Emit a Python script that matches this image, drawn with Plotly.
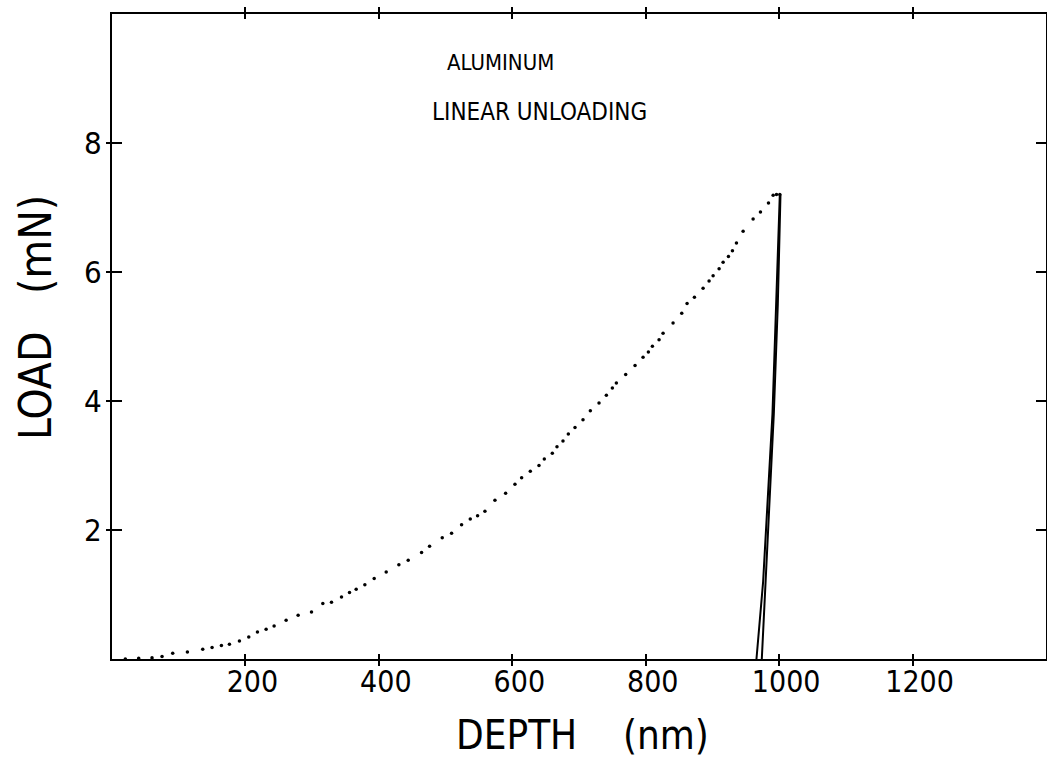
import plotly.graph_objects as go

# Loading branch (dotted): depth in nm, load in mN
load_depth = [20, 40, 60, 75, 91, 113, 136, 150, 164, 176, 191, 205, 218, 231, 243,
              261, 279, 299, 316, 329, 344, 356, 366, 379, 393, 411, 430, 444, 464,
              476, 495, 509, 524, 537, 548, 559, 574, 590, 604, 614, 627, 640, 648,
              660, 667, 676, 684, 694, 706, 717, 730, 741, 750, 756, 770, 784, 796,
              804, 810, 820, 826, 841, 854, 862, 873, 886, 895, 901, 910, 916, 924,
              930, 936, 946, 961, 972, 984, 991, 996, 1001]
load_mn = [0.0, 0.01, 0.02, 0.04, 0.09, 0.11, 0.15, 0.18, 0.21, 0.23, 0.28, 0.34, 0.42,
           0.46, 0.51, 0.60, 0.68, 0.73, 0.86, 0.88, 0.96, 1.03, 1.08, 1.15, 1.25, 1.35,
           1.46, 1.53, 1.65, 1.75, 1.88, 1.95, 2.08, 2.17, 2.22, 2.29, 2.46, 2.57, 2.71,
           2.81, 2.91, 3.00, 3.10, 3.19, 3.29, 3.38, 3.49, 3.59, 3.71, 3.85, 3.97, 4.09,
           4.20, 4.28, 4.41, 4.55, 4.68, 4.76, 4.85, 4.95, 5.05, 5.21, 5.36, 5.51, 5.61,
           5.75, 5.86, 5.94, 6.05, 6.15, 6.24, 6.33, 6.45, 6.63, 6.82, 6.93, 7.07, 7.19,
           7.20, 7.20]

# Linear unloading branches (solid)
unload_depth_a = [1001, 996, 990, 976, 966]
unload_load_a = [7.2, 5.5, 3.8, 1.2, 0.0]
unload_depth_b = [1002, 998, 992, 980, 974]
unload_load_b = [7.2, 5.5, 3.8, 1.2, 0.0]

x_ticks = [200, 400, 600, 800, 1000, 1200]
y_ticks = [2, 4, 6, 8]

NARROW = "DejaVu Sans Condensed, Liberation Sans Narrow, sans-serif"

fig = go.Figure()
fig.add_trace(go.Scatter(x=load_depth, y=load_mn, mode="markers",
                         marker=dict(color="black", size=3.5), showlegend=False))
fig.add_trace(go.Scatter(x=unload_depth_a, y=unload_load_a, mode="lines",
                         line=dict(color="black", width=2), showlegend=False))
fig.add_trace(go.Scatter(x=unload_depth_b, y=unload_load_b, mode="lines",
                         line=dict(color="black", width=2), showlegend=False))
# invisible trace that activates the overlay axes carrying the inward ticks
fig.add_trace(go.Scatter(x=[0], y=[0], xaxis="x2", yaxis="y2", mode="markers",
                         marker=dict(opacity=0), showlegend=False, hoverinfo="skip"))

axis_common = dict(showgrid=False, zeroline=False, showline=True, linecolor="black",
                   linewidth=2, tickcolor="black", tickwidth=2)

fig.update_layout(
    width=1047, height=765,
    margin=dict(l=112, r=1, t=14, b=106, autoexpand=False),
    paper_bgcolor="white", plot_bgcolor="white",
    xaxis=dict(range=[0, 1400], tickvals=x_ticks, ticktext=[str(v) for v in x_ticks],
               ticks="outside", ticklen=5, mirror="ticks", ticklabelshift=7,
               ticklabelstandoff=-10, automargin=False,
               tickfont=dict(family=NARROW, size=30, color="black"), **axis_common),
    yaxis=dict(range=[0, 10], tickvals=y_ticks, ticktext=[str(v) for v in y_ticks],
               ticks="outside", ticklen=4, mirror="ticks", automargin=False,
               ticklabelstandoff=-2,
               tickfont=dict(family=NARROW, size=31, color="black"), **axis_common),
    xaxis2=dict(range=[0, 1400], overlaying="x", tickvals=x_ticks, ticks="inside",
                ticklen=5, mirror="ticks", showticklabels=False, automargin=False,
                **axis_common),
    yaxis2=dict(range=[0, 10], overlaying="y", tickvals=y_ticks, ticks="inside",
                ticklen=10, mirror="ticks", showticklabels=False, automargin=False,
                **axis_common),
    annotations=[
        dict(x=583, y=9.25, xref="x", yref="y", text="ALUMINUM", showarrow=False,
             xanchor="center", yanchor="middle",
             font=dict(family=NARROW, size=22, color="black")),
        dict(x=641, y=8.48, xref="x", yref="y", text="LINEAR UNLOADING", showarrow=False,
             xanchor="center", yanchor="middle",
             font=dict(family=NARROW, size=24, color="black")),
        dict(x=(582 - 112) / 934, y=-(735 - 659) / 645, xref="paper", yref="paper",
             text="DEPTH" + "\u00a0" * 4 + "(nm)", showarrow=False,
             xanchor="center", yanchor="middle",
             font=dict(family=NARROW, size=40, color="black")),
        dict(x=-(112 - 35) / 934, y=(659 - 318) / 645, xref="paper", yref="paper",
             text="LOAD" + "\u00a0" * 3 + "(mN)", textangle=-90, showarrow=False,
             xanchor="center", yanchor="middle",
             font=dict(family=NARROW, size=44, color="black")),
    ],
)

fig.write_html("out.html")
